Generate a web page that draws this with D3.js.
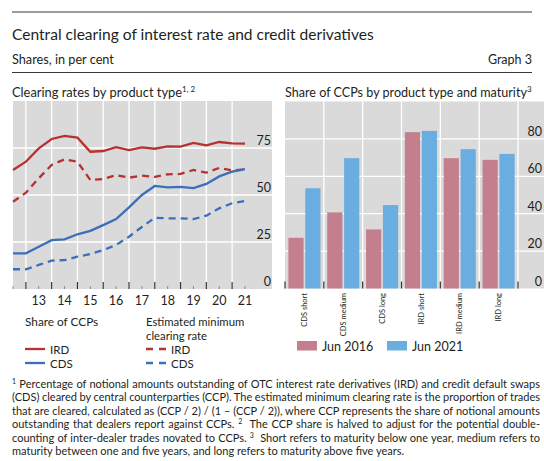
<!DOCTYPE html>
<html>
<head>
<meta charset="utf-8">
<script src="https://cdn.jsdelivr.net/npm/d3@7"></script>
<style>
  body { margin: 0; background: #fff; }
  svg { display: block; font-family: Lato, "Open Sans", sans-serif; }
</style>
</head>
<body>
<svg id="chart" width="544" height="461"></svg>
<script>
  // left panel: semi-annual observations (end-Jun / end-Dec), per cent
  var periods = [2012.5, 2013.0, 2013.5, 2014.0, 2014.5, 2015.0, 2015.5, 2016.0, 2016.5, 2017.0,
                 2017.5, 2018.0, 2018.5, 2019.0, 2019.5, 2020.0, 2020.5, 2021.0, 2021.5];
  var irdShare = [63.3, 67.7, 74.8, 79.8, 81.4, 80.5, 73.0, 73.4, 75.4, 73.9,
                  75.3, 74.6, 75.9, 75.7, 77.7, 76.4, 78.2, 77.5, 77.3];
  var cdsShare = [19.0, 19.0, 22.5, 26.0, 26.4, 29.1, 30.9, 34.0, 37.2, 43.4,
                  50.0, 54.8, 54.1, 54.3, 53.7, 55.9, 59.9, 62.4, 63.7];
  var irdMin = [46.4, 51.2, 58.9, 66.0, 69.0, 67.7, 58.0, 58.5, 60.6, 59.2,
                60.3, 59.6, 61.0, 61.2, 63.3, 61.9, 64.4, 63.1, 63.5];
  var cdsMin = [10.5, 10.5, 12.8, 15.1, 15.4, 17.2, 18.6, 20.7, 23.4, 27.8,
                33.0, 37.9, 37.6, 37.6, 37.2, 39.0, 42.9, 45.6, 46.8];
  var years = [2013, 2014, 2015, 2016, 2017, 2018, 2019, 2020, 2021];
  var leftTicks = [0, 25, 50, 75];

  // right panel
  var categories = ["CDS short", "CDS medium", "CDS long", "IRD short", "IRD medium", "IRD long"];
  var jun2016 = [27.1, 40.7, 31.6, 83.6, 69.7, 68.8];
  var jun2021 = [53.6, 69.7, 44.6, 84.3, 74.5, 72.0];
  var seriesNames = ["Jun 2016", "Jun 2021"];
  var rightTicks = [0, 20, 40, 60, 80];

  var ink = "#231f20",
      panel = "#dadada",
      red = "#b73130",
      blue = "#3b6fba",
      pink = "#c47f8e",
      sky = "#6aade0";

  var svg = d3.select("#chart");

  // scale a text's font so that it spans the given width
  function fitWidth(sel, measure, width) {
    var fs = +sel.attr("font-size");
    var len = measure.node().getComputedTextLength();
    sel.attr("font-size", (fs * width / len).toFixed(2));
  }

  // header
  svg.append("line").attr("x1", 12).attr("x2", 532).attr("y1", 12).attr("y2", 12)
      .attr("stroke", "#3a3a3a").attr("stroke-width", 1.2);
  var title = svg.append("text").attr("x", 12).attr("y", 40).attr("font-size", 15).attr("fill", ink)
      .text("Central clearing of interest rate and credit derivatives");
  fitWidth(title, title, 362);
  var sub = svg.append("text").attr("x", 12).attr("y", 64).attr("font-size", 12).attr("fill", ink)
      .text("Shares, in per cent");
  fitWidth(sub, sub, 102);
  svg.append("text").attr("x", 532).attr("y", 64).attr("font-size", 12.5).attr("fill", ink)
      .attr("text-anchor", "end").text("Graph 3");
  svg.append("line").attr("x1", 12).attr("x2", 532).attr("y1", 72.5).attr("y2", 72.5)
      .attr("stroke", "#3a3a3a").attr("stroke-width", 1.2);

  function panelTitle(x, main, sup, width) {
    var t = svg.append("text").attr("x", x).attr("y", 97).attr("font-size", 12.5).attr("fill", ink);
    var m = t.append("tspan").text(main);
    fitWidth(t, m, width);
    t.append("tspan").attr("font-size", 8).attr("dy", -5).text(sup);
  }
  panelTitle(12, "Clearing rates by product type", "1, 2", 170);
  panelTitle(285, "Share of CCPs by product type and maturity", "3", 242);

  // ---- left panel: lines
  var x = d3.scaleLinear().domain([2012.5, 2021.5]).range([13, 245]);
  var y = d3.scaleLinear().domain([0, 100]).range([289, 101]);

  var left = svg.append("g");
  left.append("rect").attr("x", 13).attr("y", y(100)).attr("width", 272 - 13).attr("height", y(0) - y(100))
      .attr("fill", panel);

  left.selectAll(".hgrid").data(leftTicks.slice(1)).enter().append("line")
      .attr("x1", 13).attr("x2", 272)
      .attr("y1", function(d) { return y(d); }).attr("y2", function(d) { return y(d); })
      .attr("stroke", "#fff").attr("stroke-width", 1.3);

  left.selectAll(".vgrid").data(years).enter().append("line")
      .attr("x1", function(d) { return x(d); }).attr("x2", function(d) { return x(d); })
      .attr("y1", y(100)).attr("y2", y(0))
      .attr("stroke", "#fff").attr("stroke-width", 1.3);

  // major ticks at year ends, minor at mid-year
  left.selectAll(".major").data(years).enter().append("line")
      .attr("x1", function(d) { return x(d); }).attr("x2", function(d) { return x(d); })
      .attr("y1", y(0) - 7).attr("y2", y(0))
      .attr("stroke", "#333").attr("stroke-width", 1.2);
  left.selectAll(".minor").data(years.map(function(d) { return d + 0.5; }).concat([2012.5])).enter().append("line")
      .attr("x1", function(d) { return x(d); }).attr("x2", function(d) { return x(d); })
      .attr("y1", y(0) - 3).attr("y2", y(0))
      .attr("stroke", "#8a8a8a").attr("stroke-width", 1);

  left.selectAll(".ylab").data(leftTicks).enter().append("text")
      .attr("x", 271).attr("y", function(d) { return y(d) - 3; })
      .attr("text-anchor", "end").attr("font-size", 12.5).attr("fill", ink)
      .text(function(d) { return d; });

  left.selectAll(".xlab").data(years).enter().append("text")
      .attr("x", function(d) { return x(d + 0.5); }).attr("y", 305)
      .attr("text-anchor", "middle").attr("font-size", 12.5).attr("fill", ink)
      .text(function(d) { return String(d).slice(2); });

  var line = d3.line()
      .x(function(d, i) { return x(periods[i]); })
      .y(function(d) { return y(d); });

  var lines = [
    { values: irdMin, color: red, dash: "7,5" },
    { values: cdsMin, color: blue, dash: "7,5" },
    { values: irdShare, color: red, dash: null },
    { values: cdsShare, color: blue, dash: null }
  ];
  left.selectAll(".series").data(lines).enter().append("path")
      .attr("d", function(d) { return line(d.values); })
      .attr("fill", "none")
      .attr("stroke", function(d) { return d.color; })
      .attr("stroke-width", 2.3)
      .attr("stroke-dasharray", function(d) { return d.dash; });

  // left legend
  svg.append("text").attr("x", 25).attr("y", 326).attr("font-size", 11.8).attr("fill", ink).text("Share of CCPs");
  svg.append("text").attr("x", 146).attr("y", 326).attr("font-size", 11.3).attr("fill", ink).text("Estimated minimum");
  svg.append("text").attr("x", 146).attr("y", 339.6).attr("font-size", 11.3).attr("fill", ink).text("clearing rate");

  var legendItems = [
    { label: "IRD", color: red, dash: null, x: 25, y: 349 },
    { label: "CDS", color: blue, dash: null, x: 25, y: 363 },
    { label: "IRD", color: red, dash: "7,6", x: 146, y: 349 },
    { label: "CDS", color: blue, dash: "7,6", x: 146, y: 363 }
  ];
  var li = svg.selectAll(".leg").data(legendItems).enter().append("g");
  li.append("line")
      .attr("x1", function(d) { return d.x; }).attr("x2", function(d) { return d.x + 20; })
      .attr("y1", function(d) { return d.y; }).attr("y2", function(d) { return d.y; })
      .attr("stroke", function(d) { return d.color; }).attr("stroke-width", 2.3)
      .attr("stroke-dasharray", function(d) { return d.dash; });
  li.append("text")
      .attr("x", function(d) { return d.x + 25; }).attr("y", function(d) { return d.y + 4.5; })
      .attr("font-size", 11.5).attr("fill", ink)
      .text(function(d) { return d.label; });

  // ---- right panel: bars
  var x0 = d3.scaleBand().domain(categories).range([285, 518]);
  var x1 = d3.scaleBand().domain(seriesNames).range([0, x0.bandwidth()]).paddingInner(0.1).paddingOuter(0.2);
  var y2 = d3.scaleLinear().domain([0, 100]).range([288.5, 101.5]);

  var right = svg.append("g");
  right.append("rect").attr("x", 285).attr("y", y2(100)).attr("width", 544 - 285).attr("height", y2(0) - y2(100))
      .attr("fill", panel);

  right.selectAll(".hgrid").data(rightTicks.slice(1)).enter().append("line")
      .attr("x1", 285).attr("x2", 544)
      .attr("y1", function(d) { return y2(d); }).attr("y2", function(d) { return y2(d); })
      .attr("stroke", "#fff").attr("stroke-width", 1.3);

  var bounds = categories.map(function(c) { return x0(c); }).concat([518]);
  right.selectAll(".vgrid").data(bounds.slice(1)).enter().append("line")
      .attr("x1", function(d) { return d; }).attr("x2", function(d) { return d; })
      .attr("y1", y2(100)).attr("y2", y2(0))
      .attr("stroke", "#fff").attr("stroke-width", 1.3);

  var rows = categories.map(function(c, i) {
    return { cat: c, vals: [{ s: seriesNames[0], v: jun2016[i] }, { s: seriesNames[1], v: jun2021[i] }] };
  });
  var color = d3.scaleOrdinal().domain(seriesNames).range([pink, sky]);

  right.selectAll(".cat").data(rows).enter().append("g")
      .attr("transform", function(d) { return "translate(" + x0(d.cat) + ",0)"; })
    .selectAll("rect").data(function(d) { return d.vals; }).enter().append("rect")
      .attr("x", function(d) { return x1(d.s); })
      .attr("width", x1.bandwidth())
      .attr("y", function(d) { return y2(d.v); })
      .attr("height", function(d) { return y2(0) - y2(d.v); })
      .attr("fill", function(d) { return color(d.s); });

  right.selectAll(".tick").data(bounds).enter().append("line")
      .attr("x1", function(d) { return d; }).attr("x2", function(d) { return d; })
      .attr("y1", y2(0) - 7).attr("y2", y2(0))
      .attr("stroke", "#333").attr("stroke-width", 1.2);

  right.selectAll(".ylab").data(rightTicks).enter().append("text")
      .attr("x", 542).attr("y", function(d) { return y2(d) - 3; })
      .attr("text-anchor", "end").attr("font-size", 12.5).attr("fill", ink)
      .text(function(d) { return d; });

  right.selectAll(".xlab").data(categories).enter().append("text")
      .attr("transform", function(d) { return "translate(" + (x0(d) + x0.bandwidth() / 2) + ",293) rotate(-90)"; })
      .attr("dy", ".35em")
      .attr("text-anchor", "end").attr("font-size", 7.5).attr("fill", ink)
      .text(function(d) { return d; });

  var rl = svg.selectAll(".rleg").data(seriesNames).enter().append("g")
      .attr("transform", function(d, i) { return "translate(" + (297 + i * 90) + ",341)"; });
  rl.append("rect").attr("width", 20).attr("height", 9.5).attr("fill", function(d) { return color(d); });
  rl.append("text").attr("x", 25).attr("y", 9.5).attr("font-size", 12.5).attr("fill", ink)
      .text(function(d) { return d; });

  // ---- footnotes, justified by word spacing
  var notes = [
    [["1", 1], [" Percentage of notional amounts outstanding of OTC interest rate derivatives (IRD) and credit default swaps", 0]],
    [["(CDS) cleared by central counterparties (CCP). The estimated minimum clearing rate is the proportion of trades", 0]],
    [["that are cleared, calculated as (CCP / 2) / (1 \u2013 (CCP / 2)), where CCP represents the share of notional amounts", 0]],
    [["outstanding that dealers report against CCPs. ", 0], ["2", 1], ["  The CCP share is halved to adjust for the potential double-", 0]],
    [["counting of inter-dealer trades novated to CCPs. ", 0], ["3", 1], ["  Short refers to maturity below one year, medium refers to", 0]],
    [["maturity between one and five years, and long refers to maturity above five years.", 0]]
  ];
  notes.forEach(function(parts, i) {
    var t = svg.append("text").attr("x", 12).attr("y", 387.5 + i * 13.5)
        .attr("font-size", 11).attr("fill", ink).attr("xml:space", "preserve");
    parts.forEach(function(p) {
      var s = t.append("tspan").text(p[0]);
      if (p[1]) s.attr("font-size", 7).attr("baseline-shift", "super");
    });
    if (i < notes.length - 1) {
      var full = parts.map(function(p) { return p[0]; }).join("");
      var spaces = (full.match(/ /g) || []).length;
      var len = t.node().getComputedTextLength();
      if (spaces) t.attr("word-spacing", (528 - len) / spaces);
    }
  });
</script>
</body>
</html>
